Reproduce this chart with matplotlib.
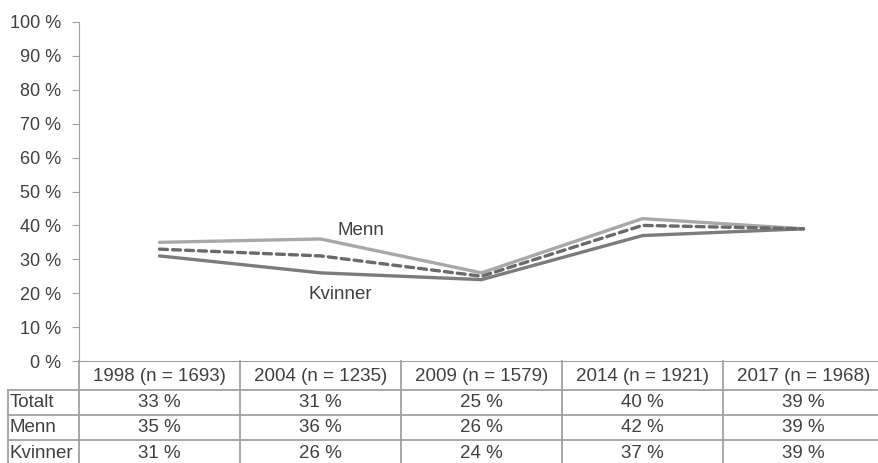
import matplotlib.pyplot as plt
import matplotlib.transforms as mtransforms

plt.rcParams['font.family'] = ['Liberation Sans', 'DejaVu Sans']

years = ['1998 (n = 1693)', '2004 (n = 1235)', '2009 (n = 1579)',
         '2014 (n = 1921)', '2017 (n = 1968)']
totalt = [33, 31, 25, 40, 39]
menn = [35, 36, 26, 42, 39]
kvinner = [31, 26, 24, 37, 39]
row_names = ['Totalt', 'Menn', 'Kvinner']
rows = [totalt, menn, kvinner]

W, H = 879, 463
text_col = '#404040'
grid_col = '#a0a0a0'

fig = plt.figure(figsize=(W / 100, H / 100), dpi=100)
# axes box in pixels: left 79, top 22, bottom 361, column width ~161
left, top, bottom, colw = 79, 22, 361, 161
ax = fig.add_axes([left / W, (H - bottom) / H, 5 * colw / W, (bottom - top) / H])

x = list(range(len(years)))
ax.plot(x, menn, color='#a8a8a8', lw=2.4, solid_capstyle='round')
ax.plot(x, kvinner, color='#7c7c7c', lw=2.4, solid_capstyle='round')
ax.plot(x, totalt, color='#6a6a6a', lw=2.4, dashes=(2.4, 1.5), dash_capstyle='round')

ax.text(1.25, 38.6, 'Menn', ha='center', va='center', fontsize=13.5, color=text_col)
ax.text(1.12, 19.5, 'Kvinner', ha='center', va='center', fontsize=13.5, color=text_col)

ax.set_xlim(-0.5, 4.5)
ax.set_ylim(0, 100)
ax.set_yticks(range(0, 101, 10))
ax.set_yticklabels([f'{v} %' for v in range(0, 101, 10)], fontsize=13, color=text_col)
ax.tick_params(axis='y', length=5, color=grid_col, pad=8)
ax.set_xticks([])
for s in ['top', 'right']:
    ax.spines[s].set_visible(False)
ax.spines['left'].set_color(grid_col)
ax.spines['bottom'].set_color(grid_col)
ax.patch.set_alpha(0)

# data table under the chart
tr = mtransforms.blended_transform_factory(ax.transData, fig.transFigure)
def fy(py):
    return (H - py) / H

row_edges = [361, 390, 415, 440, 466]
label_left = -0.5 - (left - 8) / colw
fs = 13.5

for i, yr in enumerate(years):
    ax.text(i, fy((row_edges[0] + row_edges[1]) / 2 + 1), yr, transform=tr, ha='center',
            va='center', fontsize=fs, color=text_col, clip_on=False)
for r, (name, vals) in enumerate(zip(row_names, rows)):
    yc = fy((row_edges[r + 1] + row_edges[r + 2]) / 2)
    ax.text(label_left + 0.01, yc, name, transform=tr, ha='left', va='center',
            fontsize=fs, color=text_col, clip_on=False)
    for i, v in enumerate(vals):
        ax.text(i, yc, f'{v} %', transform=tr, ha='center', va='center',
                fontsize=fs, color=text_col, clip_on=False)

lw = 1.3
for py in row_edges[1:4]:
    ax.plot([label_left, 4.5], [fy(py)] * 2, transform=tr, color=grid_col, lw=lw, clip_on=False)
for i in range(6):
    ax.plot([i - 0.5] * 2, [fy(361), fy(466)], transform=tr, color=grid_col, lw=lw, clip_on=False)
ax.plot([label_left] * 2, [fy(390), fy(466)], transform=tr, color=grid_col, lw=lw, clip_on=False)

fig.savefig('out.png', dpi=100)
